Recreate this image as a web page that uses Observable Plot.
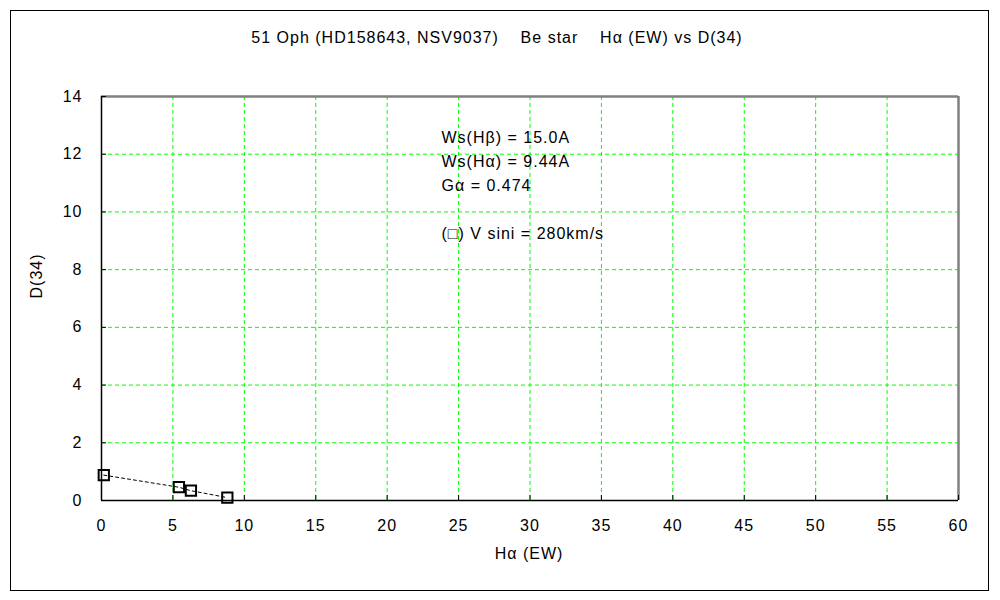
<!DOCTYPE html>
<html>
<head>
<meta charset="utf-8">
<script src="https://cdn.jsdelivr.net/npm/d3@7"></script>
<script src="https://cdn.jsdelivr.net/npm/@observablehq/plot@0.6"></script>
<style>
  html, body { margin: 0; padding: 0; background: #fff; }
  #wrap { position: relative; width: 1000px; height: 600px; }
  #border { position: absolute; left: 10px; top: 10px; width: 977px; height: 579px; border: 1px solid #000; box-sizing: content-box; pointer-events: none; }
  #chart { position: absolute; left: 0; top: 0; }
  #chart svg text { letter-spacing: 1px; }
</style>
</head>
<body>
<div id="wrap"><div id="chart"></div><div id="border"></div></div>
<script>
// Data
const hAlphaEW = [0.16, 5.42, 6.26, 8.81];
const d34 = [0.88, 0.46, 0.34, 0.10];
const xTicks = [0, 5, 10, 15, 20, 25, 30, 35, 40, 45, 50, 55, 60];
const yTicks = [0, 2, 4, 6, 8, 10, 12, 14];
const titleText = "51 Oph (HD158643, NSV9037)    Be star    Hα (EW) vs D(34)";
const xLabel = "Hα (EW)";
const yLabel = "D(34)";
const notes = ["Ws(Hβ) = 15.0A", "Ws(Hα) = 9.44A", "Gα = 0.474", "(□) V sini = 280km/s"];
const noteRows = [0, 1, 2, 4];

const points = hAlphaEW.map((x, i) => ({x, y: d34[i]}));
const font = "'Liberation Sans', Arial, sans-serif";
const green = "#00ff00";

const chart = Plot.plot({
  width: 1000,
  height: 600,
  marginLeft: 101,
  marginRight: 42,
  marginTop: 96,
  marginBottom: 100,
  style: {fontFamily: font, fontSize: "16px", color: "#000", background: "transparent"},
  x: {domain: [0, 60], ticks: xTicks},
  y: {domain: [0, 14], ticks: yTicks},
  marks: [
    Plot.gridX(xTicks.slice(1, -1), {stroke: green, strokeOpacity: 1, strokeDasharray: "4,3", strokeWidth: 1}),
    Plot.gridY(yTicks.slice(1, -1), {stroke: green, strokeOpacity: 1, strokeDasharray: "4,3", strokeWidth: 1}),
    Plot.ruleY([14], {stroke: "#808080", strokeWidth: 2.5}),
    Plot.ruleX([60], {stroke: "#808080", strokeWidth: 2.5}),
    Plot.ruleX([0], {stroke: "#000", strokeWidth: 1.5}),
    Plot.ruleY([0], {stroke: "#000", strokeWidth: 1.5}),
    Plot.axisX(xTicks, {tickSize: -5, tickFormat: () => "", label: null, stroke: "#000"}),
    Plot.axisX(xTicks, {tickSize: 0, tickPadding: 19, label: null, fontSize: 16}),
    Plot.axisY(yTicks, {tickSize: -5, tickFormat: () => "", label: null, stroke: "#000"}),
    Plot.axisY(yTicks, {tickSize: 0, tickPadding: 19, label: null, fontSize: 16}),
    Plot.line(points, {x: "x", y: "y", stroke: "#000", strokeWidth: 1, strokeDasharray: "3,3"}),
    Plot.dot(points, {x: "x", y: "y", symbol: "square", r: 5.8, stroke: "#000", strokeWidth: 2, fill: "none"}),
    ...notes.map((t, i) => Plot.text([t], {frameAnchor: "top-left", textAnchor: "start", lineAnchor: "middle",
      dx: 340, dy: 41 + 24 * noteRows[i], fontSize: 16})),
    Plot.text([titleText], {frameAnchor: "top", dx: -33, dy: -59, lineAnchor: "middle", fontSize: 16}),
    Plot.text([xLabel], {frameAnchor: "bottom", dx: -1, dy: 53, lineAnchor: "middle", fontSize: 16}),
    Plot.text([yLabel], {frameAnchor: "left", dx: -65, rotate: -90, lineAnchor: "middle", fontSize: 16})
  ]
});

document.getElementById("chart").appendChild(chart);
</script>
</body>
</html>
